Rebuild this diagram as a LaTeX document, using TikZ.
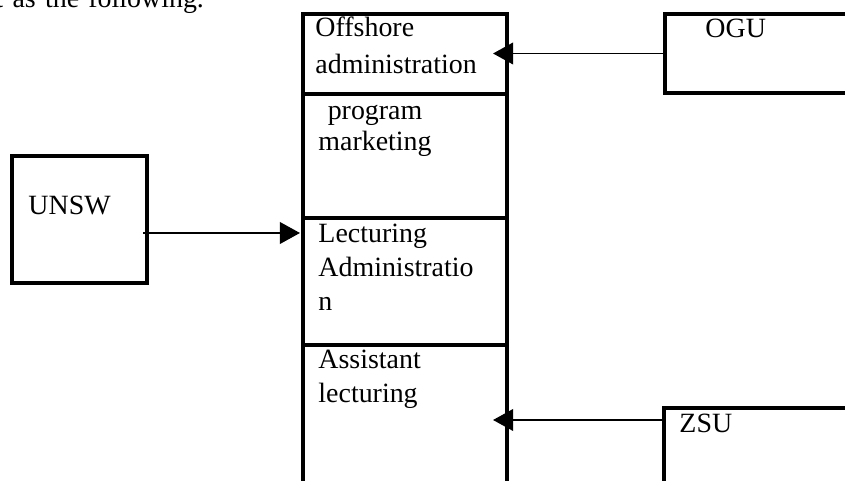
\documentclass[tikz,border=0pt]{standalone}
\usepackage{fontspec}
\setmainfont{Liberation Serif}
\usetikzlibrary{positioning, arrows.meta}
\tikzset{%
  flow/.style={-{Triangle[length=8.6pt, width=9.3pt]}, line width=0.7pt},
  box/.style={draw, line width=1.3pt, outer sep=0pt, inner sep=0pt},
  sec/.style={box, minimum width=87.72pt},
  lbl/.style={anchor=base west, inner sep=0pt, text width=110pt, align=left,
    font=\fontsize{12}{14.5}\selectfont}
}

\begin{document}
\begin{tikzpicture}[x=0.43pt, y=-0.43pt]
        \useasboundingbox (0,0) rectangle (845,481);
        \node[lbl, text width=250pt] (intro) at (-5,7.5) {t as the following.};
        \node[sec, minimum height=34.4pt, anchor=north west] (off) at (303,14) {};
        \node[sec, minimum height=53.32pt] (prog) [below = 0pt of off]  {};
        \node[sec, minimum height=54.61pt] (lect) [below = 0pt of prog] {};
        \node[sec, minimum height=68.8pt]  (asst) [below = 0pt of lect] {};
        \node[box, minimum width=58.05pt, minimum height=54.61pt, anchor=north west] (unsw) at (12,156) {};
        \node[box, minimum width=107.5pt, minimum height=33.97pt, anchor=north west] (ogu) at (665,14) {};
        \node[box, minimum width=107.5pt, minimum height=47.3pt, anchor=north west] (zsu) at (664,408) {};
        \node[lbl, font=\fontsize{12}{16}\selectfont] (offt) at ([shift={(12,22.5)}]off.north west) {Offshore\\administration};
        \node[lbl, font=\fontsize{12}{13}\selectfont] (progt) at ([shift={(15,26)}]prog.north west) {~program\\marketing};
        \node[lbl] (lectt) at ([shift={(15,25)}]lect.north west) {Lecturing\\Administratio\\n};
        \node[lbl] (asstt) at ([shift={(15,24)}]asst.north west) {Assistant\\lecturing};
        \node[lbl] (unswt) at ([shift={(16,59)}]unsw.north west) {UNSW};
        \node[lbl] (ogut)  at ([shift={(40,24)}]ogu.north west)  {OGU};
        \node[lbl] (zsut)  at ([shift={(15,25)}]zsu.north west)  {ZSU};
        \coordinate (u1) at ([shift={(-4,13.5)}]unsw.east);
        \coordinate (z1) at ([shift={(0,12)}]zsu.north west);
        \path[flow]
        (u1) edge[shorten >=1.3pt] (u1 -| lect.west)
        (ogu.west) edge[shorten >=-6pt] (ogu.west -| off.east)
        (z1) edge[shorten >=-6pt] (z1 -| asst.east);
      \end{tikzpicture}
\end{document}
